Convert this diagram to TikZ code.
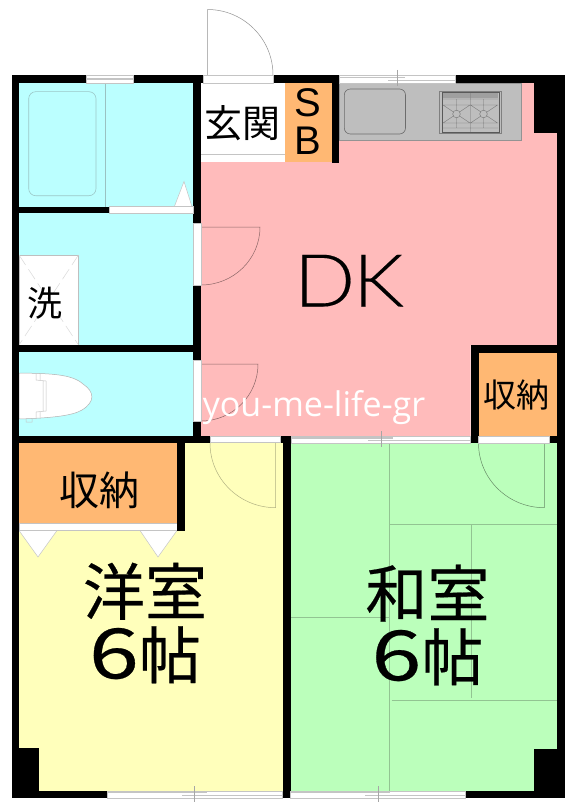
\documentclass[tikz,border=0pt]{standalone}
\usepackage{fontspec}
\setmainfont{Liberation Sans}
\newfontfamily\jpfont{Noto Sans CJK JP}
\newfontfamily\jpbig[FakeBold=0.35]{Noto Sans CJK JP}
\newfontfamily\wmfont{Open Sans}
\newfontfamily\dkfont[UprightFont=* Light,FakeBold=0.2]{Lato}
\newcommand{\jsize}[1]{\fontsize{#1}{#1}\selectfont}
\newcommand{\sixch}{\scalebox{1.45}[1.12]{6}帖}
\definecolor{wet}{HTML}{BBFFFF}
\definecolor{dk}{HTML}{FFBBBB}
\definecolor{store}{HTML}{FFB873}
\definecolor{west}{HTML}{FFFFBB}
\definecolor{jap}{HTML}{BBFFBB}
\definecolor{counter}{HTML}{BEBEBE}
\definecolor{edge}{HTML}{C4C4C4}
\definecolor{matline}{HTML}{92C492}
\tikzset{
  wall/.style={fill=black},
  opening/.style={fill=white,draw=edge,line width=0.6pt},
  txt/.style={inner sep=0pt,text=black,font=\jpfont},
  bigtxt/.style={inner sep=0pt,text=black,align=center,font=\jpbig\fontsize{62}{63.5}\selectfont},
  doorline/.style={draw=#1,line width=0.5pt},
  tatami/.style={draw=matline,line width=0.7pt}
}
\begin{document}
\begin{tikzpicture}[x=1pt,y=-1pt]
\useasboundingbox (0,0) rectangle (575,805);
\fill[white] (0,0) rectangle (575,805);
% floor fills
\fill[wet] (19,83) rectangle (193,206.7);
\fill[wet] (19,213.3) rectangle (193,345);
\fill[wet] (19,352) rectangle (193,435.7);
\fill[dk] (201,162) -- (339,162) -- (339,83) -- (557,83) -- (557,345) -- (470.7,345) -- (470.7,436) -- (201,436) -- cycle;
\fill[store] (285,83) rectangle (332,162);
\fill[store] (478.5,352.7) rectangle (557,435.7);
\fill[west] (19,443) rectangle (282.7,790.7);
\fill[store] (19,443) rectangle (177,523);
\fill[jap] (290.7,443) rectangle (557,791);
% tatami
\draw[tatami] (389.3,443) -- (389.3,791);
\draw[tatami] (389.3,524) -- (557,524);
\draw[tatami] (471,524) -- (471,698);
\draw[tatami] (290.7,617) -- (390,617);
\draw[tatami] (391.7,700.7) -- (557,700.7);
% kitchen
\filldraw[fill=counter,draw=gray!85,line width=0.4pt] (339,83) rectangle (520.7,140.5);
\draw[gray!85!black,line width=0.6pt,rounded corners=6pt] (344.3,89) rectangle (405.5,134);
\draw[gray,line width=0.5pt] (439.3,91.7) rectangle (501,133);
\draw[gray!70!black,line width=0.4pt] (442,92.5) rectangle (499,132);
\fill[gray!75] (443,93.5) rectangle (498,98);
\draw[black!55,line width=0.4pt]
  (443,99) -- (498,99) (443,105) -- (498,105) (443,123) -- (498,123) (443,128) -- (498,128)
  (470.5,93) -- (470.5,132) (456.5,99) -- (456.5,128) (483.5,99) -- (483.5,128)
  (443,105) -- (470,123) (470,105) -- (443,123) (470.5,105) -- (497.5,123) (497.5,105) -- (470.5,123);
\filldraw[fill=counter,draw=black!55,line width=0.4pt] (456.5,114) circle (3.8);
\filldraw[fill=counter,draw=black!55,line width=0.4pt] (483.5,114) circle (3.8);
% genkan
\fill[white] (201,83) rectangle (285,162);
\draw[edge,line width=0.6pt] (201,154) -- (285,154);
% bath
\draw[black!10!wet!70!gray,line width=0.6pt,rounded corners=7pt] (28.7,91.7) rectangle (96,195.7);
\draw[black!10!wet!65!gray,line width=0.6pt] (105.5,83) -- (105.5,206.7);
\filldraw[fill=white,draw=edge,line width=0.5pt] (174.3,206.7) -- (184,181.5) -- (192,206.7) -- cycle;
% washer
\filldraw[fill=white,draw=gray!50,line width=0.5pt] (19,255) rectangle (78.5,345);
\draw[gray!30,line width=0.5pt,dash pattern=on 12pt off 5pt] (19,255) -- (78.5,345) (78.5,255) -- (19,345);
% toilet
\filldraw[fill=white,draw=gray!60,line width=0.5pt] (19,373) .. controls (50,373.5) and (72,374) .. (83,384) .. controls (95,392) and (95,402) .. (82,410) .. controls (72,416) and (50,418) .. (19,419) -- cycle;
\draw[gray!45,line width=0.5pt] (36,373.5) -- (36,380) -- (46,381) -- (46,411) -- (36,412) -- (36,418.5) (40,373.5) -- (40,380) (43,381) -- (43,411) (40,412) -- (40,418.5) (26,419) -- (26,422) -- (32,422) -- (32,419);
% storage triangles
\filldraw[fill=white,draw=gray!45,line width=0.5pt] (19,530.5) -- (57,530.5) -- (38,557) -- cycle;
\filldraw[fill=white,draw=gray!45,line width=0.5pt] (140,530.5) -- (177,530.5) -- (158,557) -- cycle;
\filldraw[fill=white,draw=edge,line width=0.5pt] (19,523) rectangle (177,530.5);
% door swings
\draw[doorline=gray!85] (207.5,75) -- (207.5,9.5) arc[start angle=-90,end angle=0,radius=65.5];
\draw[doorline=dk!55!black] (201,227) -- (260,227) arc[start angle=0,end angle=-90,x radius=59,y radius=-58];
\draw[doorline=dk!55!black] (201,364) -- (258,364) arc[start angle=0,end angle=-90,x radius=57,y radius=-57];
\draw[doorline=west!70!black] (275.7,443) -- (275.7,507.7) arc[start angle=270,end angle=180,x radius=65.7,y radius=-64.7];
\draw[doorline=jap!55!black] (544.3,443) -- (544.3,507.7) arc[start angle=270,end angle=180,x radius=65.8,y radius=-64.7];
% walls
\path[wall] (11.5,75) rectangle (19,798);
\path[wall] (557,75) rectangle (565,798);
\path[wall] (11.5,75) rectangle (339,83);
\path[wall] (339,75) rectangle (565,83);
\path[wall] (11.5,790.7) rectangle (565,798);
\path[wall] (193,75) rectangle (201,443);
\path[wall] (332,83) rectangle (339,162.7);
\path[wall] (534,75) rectangle (565,132.7);
\path[wall] (19,206.7) rectangle (109,213.3);
\path[wall] (19,345) rectangle (193,352);
\path[wall] (11.5,435.7) rectangle (210,442.7);
\path[wall] (177,443) rectangle (185,530.5);
\path[wall] (282.7,443) rectangle (290.7,798);
\path[wall] (280.7,436) rectangle (291.7,443);
\path[wall] (470.7,345) rectangle (478.5,443);
\path[wall] (470.7,345) rectangle (557,352.7);
\path[wall] (549,436) rectangle (557,443);
\path[wall] (19,747.7) rectangle (38.5,791);
\path[wall] (534,749.3) rectangle (557,791);
% openings
\path[opening] (86,75.5) rectangle (133,83);
\draw[edge,line width=1.2pt] (86,79) -- (133,79);
\path[opening] (203,75.5) rectangle (273,83);
\path[opening] (339,75.5) rectangle (455.5,83);
\draw[edge,line width=0.7pt] (339,77) -- (405,77);
\draw[edge,line width=1.2pt] (388,80.5) -- (455.5,80.5);
\draw[gray!70,line width=0.5pt] (397,70) -- (397,86);
\path[opening] (109,206.7) rectangle (193,213.3);
\path[opening] (193.3,223) rectangle (201,285);
\path[opening] (193.3,360) rectangle (201,421);
\path[opening] (210,436) rectangle (280.7,442.7);
\path[opening] (291.7,436) rectangle (470.7,443);
\draw[edge,line width=1.2pt] (292,438) -- (393,438);
\draw[edge,line width=1pt] (368,440.5) -- (470,440.5);
\draw[gray!70,line width=0.5pt] (381,431) -- (381,447);
\path[opening] (478.5,436) rectangle (549,443);
\path[opening] (107,791) rectangle (282.7,798);
\draw[edge,line width=1pt] (107,792.5) -- (207,792.5);
\draw[edge,line width=1.2pt] (182,795.5) -- (282,795.5);
\draw[gray!70,line width=0.5pt] (194,786) -- (194,802);
\path[opening] (290.7,791) rectangle (465.7,798);
\draw[edge,line width=1pt] (290.7,792.5) -- (390,792.5);
\draw[edge,line width=1.2pt] (365,795.5) -- (465.7,795.5);
\draw[gray!70,line width=0.5pt] (378,786) -- (378,802);
% labels
\node[txt] (genkan) at (242,123.5) {\jsize{38}玄関};
\node[txt,font=\fontspec{Liberation Sans}] (sbs) at (308,103) {\jsize{40}S};
\node[txt,font=\fontspec{Liberation Sans}] (sbb) at (308,140.5) {\jsize{40}B};
\node[txt,font=\dkfont,anchor=base] (dkl) at (349,306.5) {\jsize{73}\scalebox{1.1}[1]{D\kern-2ptK}};
\node[txt] (wash) at (45,303.5) {\jsize{35}洗};
\node[txt] (st1) at (516,395) {\jsize{33}収納};
\node[txt] (st2) at (99,490) {\jsize{40}収納};
\node[bigtxt] (yo) at (145,623) {洋室\\\sixch};
\node[bigtxt] (wa) at (427.5,625) {和室\\\sixch};
\node[anchor=base,inner sep=0pt,text=white,font=\wmfont] (wm) at (314,416.5) {\jsize{34}you-me-life-gr};
\end{tikzpicture}
\end{document}
